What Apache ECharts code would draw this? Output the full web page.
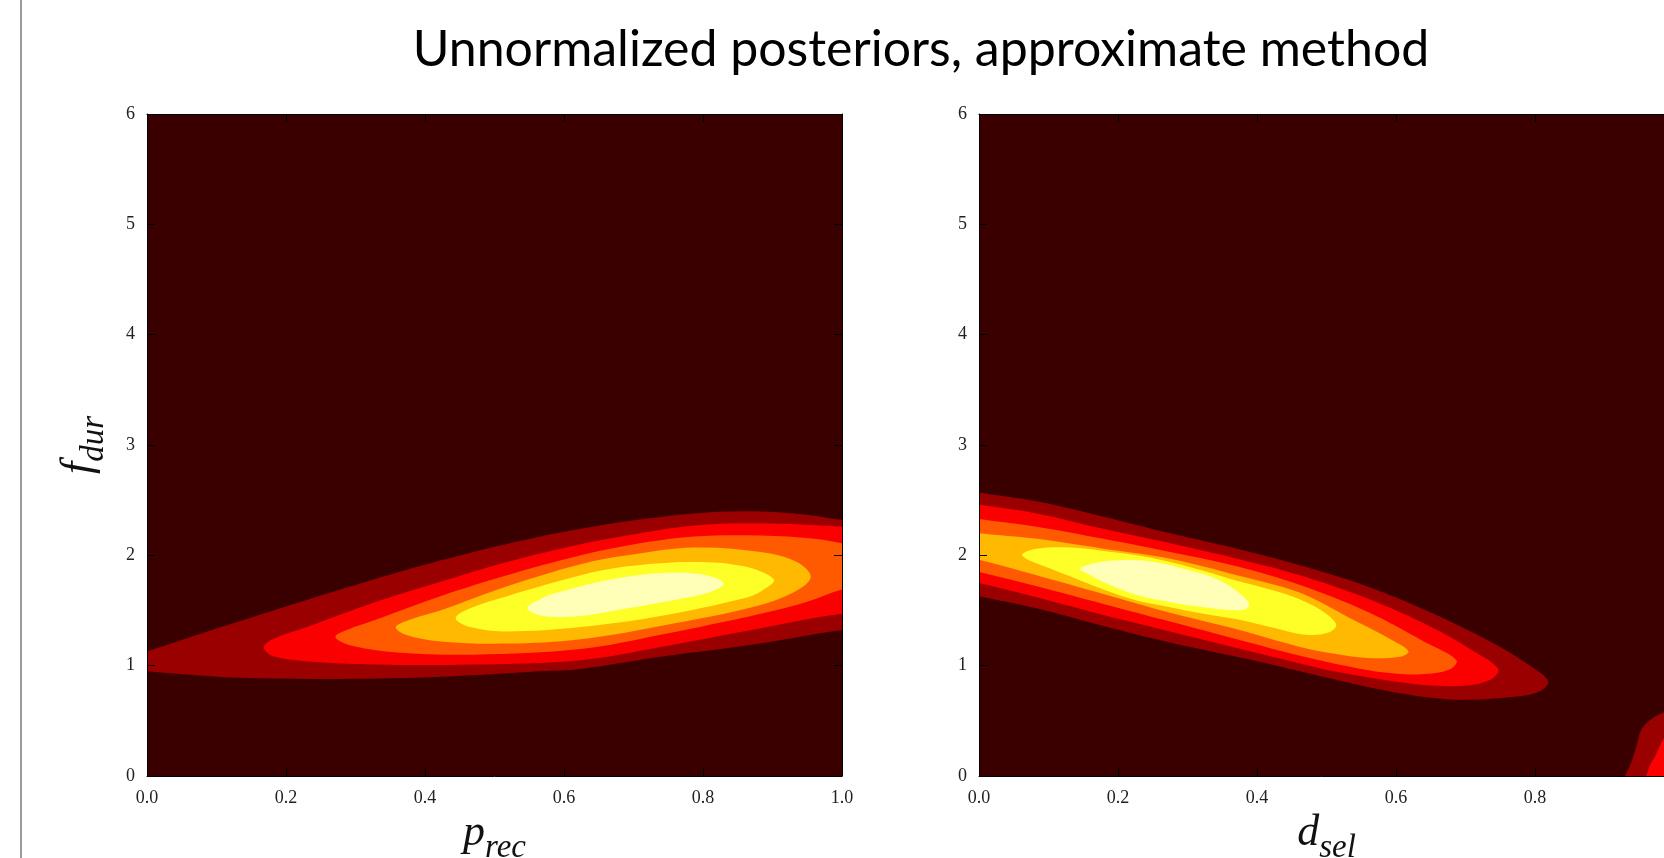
<!DOCTYPE html>
<html>
<head>
<meta charset="utf-8">
<title>Unnormalized posteriors, approximate method</title>
<script src="https://cdn.jsdelivr.net/npm/echarts@6/dist/echarts.min.js"></script>
<style>
  html, body { margin: 0; padding: 0; background: #fff; }
  #chart { width: 1664px; height: 858px; }
</style>
</head>
<body>
<div id="chart"></div>
<script>
// axis ticks
const xTicks = [0, 0.2, 0.4, 0.6, 0.8, 1.0];
const yTicks = [0, 1, 2, 3, 4, 5, 6];

// filled contour bands, 'hot' colormap, lowest band first (band 0 = background)
const bandColors = ['#3a0000', '#9a0000', '#fa0000', '#ff5a00', '#ffba00', '#ffff28', '#ffffb7'];

// left panel: f_dur against p_rec, boundary of each band [p_rec, f_dur]
const precBand1 = [[-0.03, 1.08], [0, 1.13], [0.087, 1.31], [0.182, 1.50], [0.278, 1.69], [0.374, 1.87], [0.470, 2.03],
  [0.566, 2.17], [0.624, 2.24], [0.691, 2.31], [0.787, 2.38], [0.859, 2.40], [0.931, 2.38], [1.0, 2.32], [1.03, 2.28],
  [1.03, 1.30], [1.0, 1.32], [0.883, 1.20], [0.739, 1.08], [0.624, 0.97], [0.566, 0.95], [0.422, 0.90], [0.278, 0.88],
  [0.135, 0.89], [0.039, 0.93], [0, 0.95], [-0.03, 0.97]];
const precBand2 = [[0.168, 1.17], [0.185, 1.25], [0.230, 1.35], [0.326, 1.57], [0.422, 1.76], [0.518, 1.94], [0.624, 2.10],
  [0.691, 2.18], [0.787, 2.27], [0.883, 2.29], [1.0, 2.26], [1.03, 2.24], [1.03, 1.45], [1.0, 1.47], [0.883, 1.34],
  [0.739, 1.17], [0.624, 1.05], [0.470, 1.01], [0.326, 1.01], [0.230, 1.04], [0.180, 1.09]];
const precBand3 = [[0.271, 1.26], [0.290, 1.33], [0.326, 1.41], [0.422, 1.63], [0.518, 1.82], [0.624, 2.00], [0.691, 2.09],
  [0.787, 2.17], [0.883, 2.18], [0.960, 2.15], [1.0, 2.11], [1.03, 2.08], [1.03, 1.72], [1.0, 1.69], [0.950, 1.58],
  [0.883, 1.47], [0.739, 1.28], [0.624, 1.15], [0.470, 1.10], [0.360, 1.12], [0.295, 1.18]];
const precBand4 = [[0.358, 1.35], [0.380, 1.42], [0.422, 1.50], [0.518, 1.72], [0.624, 1.92], [0.691, 2.00], [0.787, 2.07],
  [0.883, 2.03], [0.935, 1.94], [0.955, 1.81], [0.940, 1.70], [0.883, 1.55], [0.739, 1.36], [0.624, 1.24], [0.518, 1.20],
  [0.422, 1.22], [0.372, 1.28]];
const precBand5 = [[0.444, 1.43], [0.465, 1.52], [0.518, 1.63], [0.624, 1.82], [0.691, 1.90], [0.787, 1.94], [0.859, 1.90],
  [0.902, 1.78], [0.885, 1.68], [0.859, 1.61], [0.739, 1.45], [0.624, 1.35], [0.518, 1.31], [0.465, 1.35]];
const precBand6 = [[0.547, 1.52], [0.565, 1.60], [0.590, 1.66], [0.667, 1.78], [0.739, 1.84], [0.796, 1.83], [0.830, 1.75],
  [0.815, 1.68], [0.787, 1.63], [0.691, 1.52], [0.624, 1.45], [0.570, 1.45]];
const precShapes = [precBand1, precBand2, precBand3, precBand4, precBand5, precBand6];
const precShapeBand = [1, 2, 3, 4, 5, 6];

// right panel: f_dur against d_sel
const dselBand1 = [[-0.03, 2.61], [0, 2.57], [0.083, 2.49], [0.179, 2.35], [0.275, 2.20], [0.371, 2.06], [0.462, 1.91],
  [0.558, 1.72], [0.654, 1.47], [0.750, 1.17], [0.795, 0.99], [0.819, 0.86], [0.808, 0.77], [0.774, 0.72], [0.702, 0.69],
  [0.650, 0.71], [0.606, 0.75], [0.550, 0.82], [0.462, 0.95], [0.371, 1.08], [0.275, 1.21], [0.179, 1.36], [0.083, 1.52],
  [0, 1.63], [-0.03, 1.67]];
const dselBand2 = [[-0.03, 2.50], [0, 2.46], [0.083, 2.38], [0.179, 2.24], [0.275, 2.11], [0.371, 1.97], [0.462, 1.82],
  [0.558, 1.61], [0.654, 1.34], [0.715, 1.12], [0.747, 0.97], [0.738, 0.88], [0.702, 0.82], [0.650, 0.82], [0.606, 0.85],
  [0.510, 0.95], [0.462, 1.02], [0.371, 1.16], [0.275, 1.31], [0.179, 1.46], [0.083, 1.62], [0, 1.75], [-0.03, 1.79]];
const dselBand3 = [[-0.03, 2.37], [0, 2.33], [0.083, 2.26], [0.179, 2.15], [0.275, 2.03], [0.371, 1.90], [0.462, 1.73],
  [0.558, 1.49], [0.640, 1.22], [0.687, 1.05], [0.675, 0.96], [0.630, 0.92], [0.580, 0.94], [0.534, 0.99], [0.462, 1.09],
  [0.371, 1.24], [0.275, 1.40], [0.179, 1.56], [0.083, 1.72], [0, 1.85], [-0.03, 1.89]];
const dselBand4 = [[-0.03, 2.23], [0, 2.20], [0.083, 2.15], [0.179, 2.06], [0.275, 1.97], [0.371, 1.82], [0.462, 1.66],
  [0.534, 1.43], [0.598, 1.22], [0.618, 1.13], [0.605, 1.08], [0.558, 1.07], [0.510, 1.11], [0.462, 1.17], [0.371, 1.33],
  [0.275, 1.48], [0.179, 1.65], [0.083, 1.82], [0, 1.96], [-0.03, 2.00]];
const dselBand5 = [[0.062, 2.01], [0.083, 2.06], [0.131, 2.07], [0.179, 2.04], [0.227, 2.00], [0.275, 1.94], [0.323, 1.86],
  [0.371, 1.77], [0.419, 1.69], [0.462, 1.60], [0.495, 1.49], [0.514, 1.37], [0.503, 1.30], [0.470, 1.28], [0.419, 1.35],
  [0.371, 1.42], [0.323, 1.47], [0.275, 1.53], [0.227, 1.59], [0.179, 1.69], [0.131, 1.81], [0.090, 1.91], [0.068, 1.97]];
const dselBand6 = [[0.145, 1.88], [0.160, 1.92], [0.179, 1.945], [0.203, 1.955], [0.227, 1.955], [0.251, 1.94],
  [0.275, 1.91], [0.299, 1.87], [0.323, 1.83], [0.347, 1.77], [0.368, 1.69], [0.383, 1.61], [0.389, 1.55],
  [0.382, 1.51], [0.361, 1.505], [0.323, 1.53], [0.275, 1.575], [0.227, 1.64], [0.189, 1.73], [0.160, 1.82]];
// second mode in the bottom right corner
const dselCorner1 = [[0.925, -0.05], [0.930, 0.01], [0.937, 0.10], [0.946, 0.27], [0.953, 0.42], [0.968, 0.52],
  [0.986, 0.58], [1.0, 0.62], [1.03, 0.66], [1.03, -0.05]];
const dselCorner2 = [[0.958, -0.05], [0.961, 0.02], [0.967, 0.12], [0.973, 0.18], [0.980, 0.28], [0.990, 0.38],
  [1.0, 0.44], [1.03, 0.48], [1.03, -0.05]];
const dselShapes = [dselBand1, dselCorner1, dselBand2, dselCorner2, dselBand3, dselBand4, dselBand5, dselBand6];
const dselShapeBand = [1, 1, 2, 2, 3, 4, 5, 6];

const titleText = 'Unnormalized posteriors, approximate method';

const serif = '"Liberation Serif", "DejaVu Serif", serif';
const chart = echarts.init(document.getElementById('chart'));

const nameRich = {
  i: { fontFamily: serif, fontStyle: 'italic', fontSize: 44, color: '#111', verticalAlign: 'bottom', padding: [0, 0, 10, 0] },
  s: { fontFamily: serif, fontStyle: 'italic', fontSize: 33, color: '#111', verticalAlign: 'bottom' }
};

function xAxisFor(grid, top, name) {
  return {
    type: 'value', gridIndex: grid, position: top ? 'top' : 'bottom', z: 10,
    min: xTicks[0], max: xTicks[xTicks.length - 1], interval: xTicks[1] - xTicks[0],
    axisLine: { show: true, onZero: false, lineStyle: { color: '#000', width: 1 } },
    axisTick: { show: true, inside: true, length: 8, lineStyle: { color: '#000' } },
    axisLabel: {
      show: !top, margin: 13, fontFamily: serif, fontSize: 18, color: '#222',
      showMinLabel: true, showMaxLabel: true,
      formatter: v => v.toFixed(1)
    },
    splitLine: { show: false },
    name: top ? '' : name, nameLocation: 'middle', nameGap: 35, nameMoveOverlap: false,
    nameTextStyle: { rich: nameRich }
  };
}

function yAxisFor(grid, right, name) {
  return {
    type: 'value', gridIndex: grid, position: right ? 'right' : 'left', z: 10,
    min: yTicks[0], max: yTicks[yTicks.length - 1], interval: yTicks[1] - yTicks[0],
    axisLine: { show: true, onZero: false, lineStyle: { color: '#000', width: 1 } },
    axisTick: { show: true, inside: true, length: 8, lineStyle: { color: '#000' } },
    axisLabel: { show: !right, margin: 12, fontFamily: serif, fontSize: 18, color: '#222', showMinLabel: true, showMaxLabel: true },
    splitLine: { show: false },
    name: name || '', nameLocation: 'middle', nameGap: 36, nameMoveOverlap: false,
    nameTextStyle: { rich: nameRich }
  };
}

function contourSeries(axis, shapes, shapeBand) {
  return {
    type: 'custom',
    xAxisIndex: axis, yAxisIndex: axis,
    clip: true, silent: true,
    data: shapes.map((s, i) => [i]),
    renderItem: (params, api) => {
      const i = api.value(0);
      return {
        type: 'polygon',
        shape: { points: shapes[i].map(p => api.coord(p)), smooth: 0.35 },
        style: { fill: bandColors[shapeBand[i]], stroke: null }
      };
    }
  };
}

const option = {
  backgroundColor: '#fff',
  animation: false,
  grid: [
    { left: 147, top: 114, width: 695, height: 662, outerBoundsMode: 'none', containLabel: false,
      show: true, backgroundColor: bandColors[0], borderWidth: 0 },
    { left: 979, top: 114, width: 695, height: 662, outerBoundsMode: 'none', containLabel: false,
      show: true, backgroundColor: bandColors[0], borderWidth: 0 }
  ],
  xAxis: [
    xAxisFor(0, false, '{i|p}{s|rec}'), xAxisFor(0, true),
    xAxisFor(1, false, '{i|d}{s|sel}'), xAxisFor(1, true)
  ],
  yAxis: [
    yAxisFor(0, false, '{i|f}{s|dur}'), yAxisFor(0, true),
    yAxisFor(1, false), yAxisFor(1, true)
  ],
  series: [
    contourSeries(0, precShapes, precShapeBand),
    contourSeries(2, dselShapes, dselShapeBand)
  ],
  graphic: [
    { type: 'line', shape: { x1: 21, y1: 0, x2: 21, y2: 858 }, style: { stroke: '#9a9a9a', lineWidth: 2 } },
    {
      type: 'text', x: 921, y: 50,
      style: {
        text: titleText, textAlign: 'center', textVerticalAlign: 'middle',
        fontFamily: 'Lato, "Noto Sans", sans-serif', fontWeight: 400, fontSize: 50, fill: '#000'
      }
    }
  ]
};

chart.setOption(option);
</script>
</body>
</html>
